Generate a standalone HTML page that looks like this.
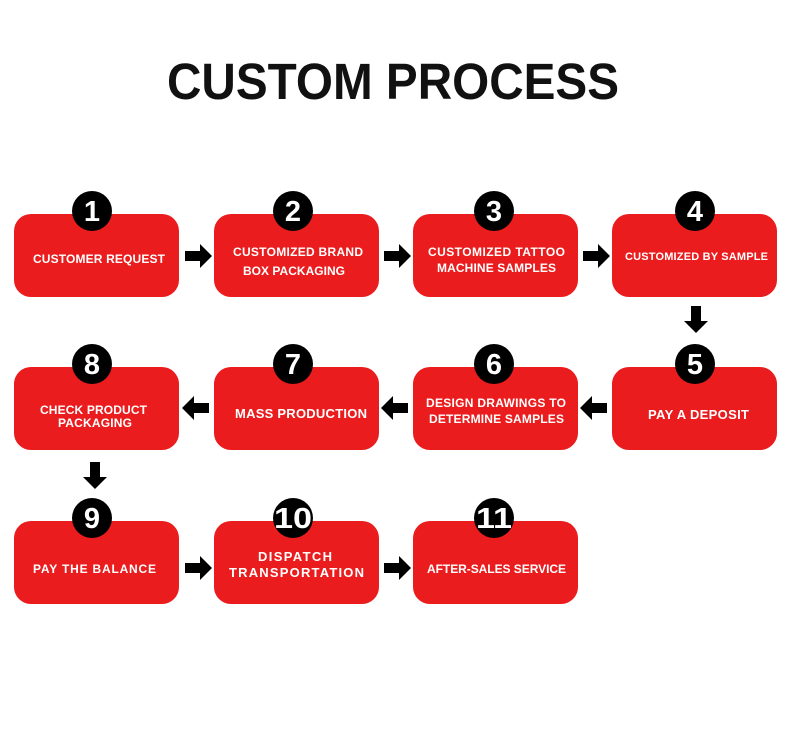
<!DOCTYPE html>
<html><head><meta charset="utf-8"><style>html,body{margin:0;padding:0;background:#fff}svg{display:block}</style></head>
<body>
<svg width="790" height="739" viewBox="0 0 790 739" xmlns="http://www.w3.org/2000/svg" font-family="Liberation Sans, sans-serif" font-weight="bold">
<defs>
<path id="ra" d="M0,-5 H15 V-12 L27,0 L15,12 V5 H0 Z" fill="#000"/>
</defs>
<text x="167" y="99" font-size="51" fill="#111" textLength="452" lengthAdjust="spacingAndGlyphs">CUSTOM PROCESS</text>
<g fill="#ea1c1d">
<rect x="14" y="214" width="165" height="83" rx="17"/>
<rect x="214" y="214" width="165" height="83" rx="17"/>
<rect x="413" y="214" width="165" height="83" rx="17"/>
<rect x="612" y="214" width="165" height="83" rx="17"/>
<rect x="14" y="367" width="165" height="83" rx="17"/>
<rect x="214" y="367" width="165" height="83" rx="17"/>
<rect x="413" y="367" width="165" height="83" rx="17"/>
<rect x="612" y="367" width="165" height="83" rx="17"/>
<rect x="14" y="521" width="165" height="83" rx="17"/>
<rect x="214" y="521" width="165" height="83" rx="17"/>
<rect x="413" y="521" width="165" height="83" rx="17"/>
</g>
<g fill="#000">
<circle cx="92" cy="211" r="20"/><circle cx="293" cy="211" r="20"/><circle cx="494" cy="211" r="20"/><circle cx="695" cy="211" r="20"/>
<circle cx="92" cy="364" r="20"/><circle cx="293" cy="364" r="20"/><circle cx="494" cy="364" r="20"/><circle cx="695" cy="364" r="20"/>
<circle cx="92" cy="518" r="20"/><circle cx="293" cy="518" r="20"/><circle cx="494" cy="518" r="20"/>
</g>
<g fill="#fff" font-size="29" text-anchor="middle">
<text x="92" y="221">1</text><text x="293" y="221">2</text><text x="494" y="221">3</text><text x="695" y="221">4</text>
<text x="92" y="374">8</text><text x="293" y="374">7</text><text x="494" y="374">6</text><text x="695" y="374">5</text>
<text x="92" y="528">9</text><text x="293" y="528" textLength="38" lengthAdjust="spacingAndGlyphs">10</text><text x="494" y="528" textLength="36" lengthAdjust="spacingAndGlyphs">11</text>
</g>
<g fill="#fff" font-size="12" lengthAdjust="spacingAndGlyphs">
<text x="33" y="263" textLength="132">CUSTOMER REQUEST</text>
<text x="233" y="256" textLength="130">CUSTOMIZED BRAND</text>
<text x="243" y="275" textLength="102">BOX PACKAGING</text>
<text x="428" y="256" textLength="137">CUSTOMIZED TATTOO</text>
<text x="437" y="272" textLength="119">MACHINE SAMPLES</text>
<text x="625" y="260" font-size="11" textLength="143">CUSTOMIZED BY SAMPLE</text>
<text x="648" y="419" font-size="13" textLength="101">PAY A DEPOSIT</text>
<text x="426" y="407" textLength="140">DESIGN DRAWINGS TO</text>
<text x="429" y="423" textLength="135">DETERMINE SAMPLES</text>
<text x="235" y="418" font-size="13" textLength="132">MASS PRODUCTION</text>
<text x="40" y="414" textLength="107">CHECK PRODUCT</text>
<text x="58" y="427" textLength="74">PACKAGING</text>
<text x="33" y="573" textLength="123">PAY THE BALANCE</text>
<text x="258" y="561" font-size="13" textLength="74">DISPATCH</text>
<text x="229" y="577" font-size="13" textLength="135">TRANSPORTATION</text>
<text x="427" y="573" textLength="139">AFTER-SALES SERVICE</text>
</g>
<use href="#ra" transform="translate(185,256)"/>
<use href="#ra" transform="translate(384,256)"/>
<use href="#ra" transform="translate(583,256)"/>
<use href="#ra" transform="translate(696,306) rotate(90)"/>
<use href="#ra" transform="translate(607,408) rotate(180)"/>
<use href="#ra" transform="translate(408,408) rotate(180)"/>
<use href="#ra" transform="translate(209,408) rotate(180)"/>
<use href="#ra" transform="translate(95,462) rotate(90)"/>
<use href="#ra" transform="translate(185,568)"/>
<use href="#ra" transform="translate(384,568)"/>
</svg>
</body></html>
